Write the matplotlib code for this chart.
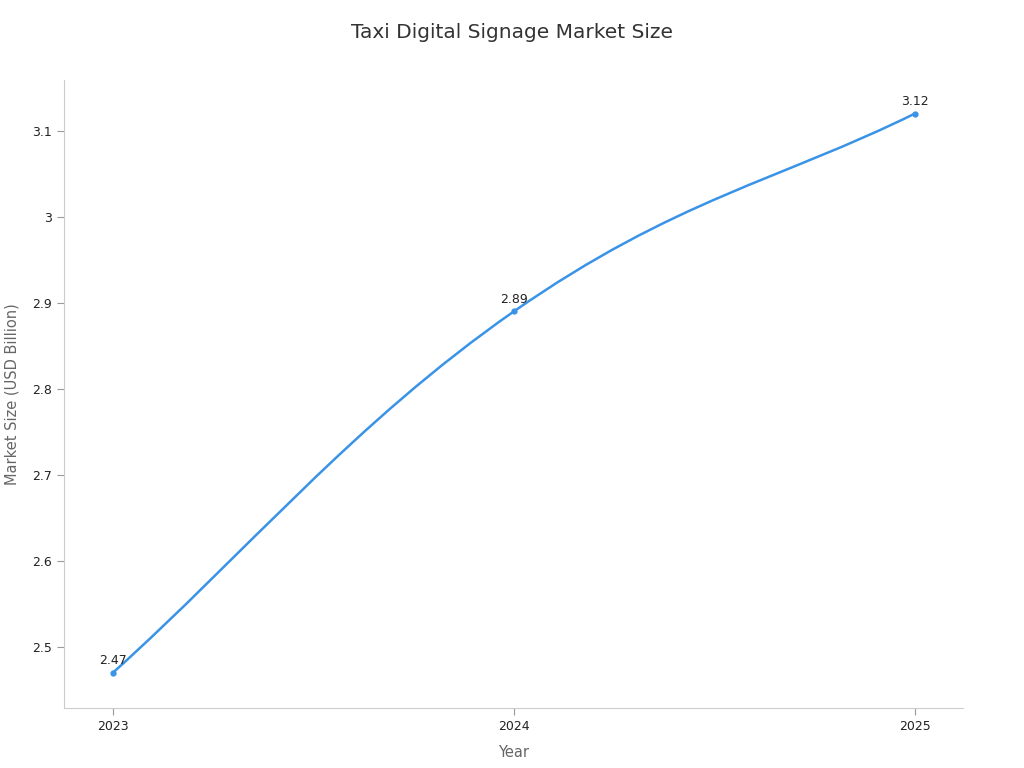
import matplotlib.pyplot as plt
from matplotlib.path import Path
import matplotlib.patches as patches

# Market size data
years = [2023, 2024, 2025]
market_size = [2.47, 2.89, 3.12]
yticks = [2.5, 2.6, 2.7, 2.8, 2.9, 3.0, 3.1]
ytick_labels = ['2.5', '2.6', '2.7', '2.8', '2.9', '3', '3.1']

line_color = '#3a93e6'
grey = '#666666'

fig = plt.figure(figsize=(10.24, 7.68), dpi=100)
ax = fig.add_axes([64 / 1024, 1 - 708 / 768, (963 - 64) / 1024, (708 - 80) / 768])

# Smoothed line through the points (cubic bezier segments)
smooth = 0.2
n = len(years)


def tangent(i):
    # tangent used for the control points at point i
    if i == 0:
        return ((years[1] - years[0]) / 3, (market_size[1] - market_size[0]) / 3)
    if i == n - 1:
        return ((years[i] - years[i - 1]) / 3, (market_size[i] - market_size[i - 1]) / 3)
    return ((years[i + 1] - years[i - 1]) * smooth,
            (market_size[i + 1] - market_size[i - 1]) * smooth)


verts = [(years[0], market_size[0])]
codes = [Path.MOVETO]
for i in range(n - 1):
    tx, ty = tangent(i)
    tx2, ty2 = tangent(i + 1)
    verts += [(years[i] + tx, market_size[i] + ty),
              (years[i + 1] - tx2, market_size[i + 1] - ty2),
              (years[i + 1], market_size[i + 1])]
    codes += [Path.CURVE4, Path.CURVE4, Path.CURVE4]
ax.add_patch(patches.PathPatch(Path(verts, codes), facecolor='none',
                               edgecolor=line_color, linewidth=1.8))
ax.plot(years, market_size, 'o', color=line_color, markersize=3.5)

for x, y in zip(years, market_size):
    ax.annotate(f'{y:g}', (x, y), xytext=(0, 4), textcoords='offset points',
                ha='center', va='bottom', fontsize=9, color='#222222')

ax.set_xlim(2022.878, 2025.12)
ax.set_ylim(2.429, 3.159)
ax.set_xticks(years)
ax.set_xticklabels([str(y) for y in years])
ax.set_yticks(yticks)
ax.set_yticklabels(ytick_labels)
ax.tick_params(labelsize=9, colors='#999999', labelcolor='#222222', length=5)

for side in ['top', 'right']:
    ax.spines[side].set_visible(False)
for side in ['left', 'bottom']:
    ax.spines[side].set_color('#cccccc')

ax.set_xlabel('Year', fontsize=10.5, color=grey, labelpad=9)
ax.set_ylabel('Market Size (USD Billion)', fontsize=10.5, color=grey, labelpad=9)
fig.text(0.5, 1 - 33 / 768, 'Taxi Digital Signage Market Size', ha='center', va='center',
         fontsize=14.5, color='#333333')

plt.savefig('out.png', dpi=100)
plt.close()
